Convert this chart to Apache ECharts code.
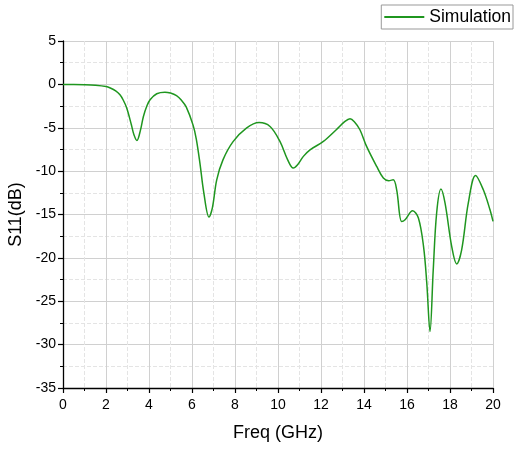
<!DOCTYPE html>
<html>
<head>
<meta charset="utf-8">
<script src="https://cdn.jsdelivr.net/npm/echarts@6/dist/echarts.min.js"></script>
<style>
  html, body { margin: 0; padding: 0; background: #fff; }
  #chart { width: 514px; height: 449px; }
</style>
</head>
<body>
<div id="chart"></div>
<script>
// S11 simulation
const freqGHz = [0, 0.5, 1, 1.5, 2, 2.2, 2.45, 2.65, 2.8, 2.96, 3.18, 3.3, 3.44, 3.6, 3.74, 3.9, 4.05, 4.36, 4.74, 5.0,
  5.28, 5.5, 5.73, 6.05, 6.2, 6.37, 6.55, 6.79, 6.95, 7.15, 7.44, 7.91, 8.53, 9.12, 9.63, 10.09, 10.45, 10.71, 10.9, 11.18,
  11.49, 12.11, 12.71, 13.1, 13.35, 13.55, 13.81, 14.12, 14.59, 14.9, 15.15, 15.36, 15.52, 15.75, 15.91, 16.26, 16.53, 16.77, 16.92, 17.07,
  17.22, 17.38, 17.58, 17.77, 18.08, 18.31, 18.54, 18.85, 19.19, 19.55, 19.86, 20]
const s11dB = [0, 0, -0.03, -0.1, -0.25, -0.42, -0.75, -1.2, -1.8, -2.7, -4.65, -5.8, -6.46, -5.3, -3.7, -2.5, -1.77, -1.08, -0.9, -1.0,
  -1.3, -1.8, -2.6, -4.7, -6.3, -9.1, -12.5, -15.3, -14.2, -11.0, -8.7, -6.6, -5.04, -4.4, -4.85, -6.58, -8.7, -9.65, -9.3, -8.3,
  -7.54, -6.58, -5.23, -4.3, -3.96, -4.3, -5.23, -7.15, -9.46, -10.8, -11.1, -11.0, -12.15, -15.8, -15.6, -14.57, -15.4, -18.7, -22.9, -28.5,
  -21.4, -14.8, -12.07, -13.7, -18.7, -20.7, -19.1, -13.7, -10.5, -12.15, -14.46, -15.8]
const seriesName = 'Simulation'

const chart = echarts.init(document.getElementById('chart'))
const axisFont = { fontFamily: 'Liberation Sans, Arial, sans-serif', color: '#000' }
const lineColor = '#1f961f'

const option = {
  animation: false,
  grid: { left: 63, right: 21, top: 41, bottom: 61, outerBoundsMode: 'none', containLabel: false },
  legend: {
    data: [{ name: seriesName, icon: 'rect' }],
    right: 1,
    top: 5,
    itemWidth: 40,
    itemHeight: 2,
    itemGap: 6,
    padding: [3, 2, 3, 3],
    borderColor: '#999',
    borderWidth: 1,
    textStyle: { ...axisFont, fontSize: 17.5 }
  },
  xAxis: {
    type: 'value',
    min: 0,
    max: 20,
    interval: 2,
    name: 'Freq (GHz)',
    nameLocation: 'middle',
    nameGap: 36,
    nameTextStyle: { ...axisFont, fontSize: 18 },
    axisLine: { show: true, onZero: false, lineStyle: { color: '#000', width: 1.3 } },
    axisTick: { show: true, inside: false, length: 5, lineStyle: { color: '#000', width: 1.2 } },
    minorTick: { show: true, splitNumber: 2, length: 3, lineStyle: { color: '#000' } },
    axisLabel: { ...axisFont, fontSize: 14, margin: 10 },
    splitLine: { show: true, lineStyle: { color: '#d0d0d0', width: 1 } },
    minorSplitLine: { show: true, lineStyle: { color: '#e4e4e4', type: 'dashed', width: 1 } }
  },
  yAxis: {
    type: 'value',
    min: -35,
    max: 5,
    interval: 5,
    name: 'S11(dB)',
    nameLocation: 'middle',
    nameGap: 35,
    nameTextStyle: { ...axisFont, fontSize: 18 },
    axisLine: { show: true, onZero: false, lineStyle: { color: '#000', width: 1.3 } },
    axisTick: { show: true, inside: false, length: 5, lineStyle: { color: '#000', width: 1.2 } },
    minorTick: { show: true, splitNumber: 2, length: 3, lineStyle: { color: '#000' } },
    axisLabel: { ...axisFont, fontSize: 14, margin: 7 },
    splitLine: { show: true, lineStyle: { color: '#d0d0d0', width: 1 } },
    minorSplitLine: { show: true, lineStyle: { color: '#e4e4e4', type: 'dashed', width: 1 } }
  },
  series: [{
    name: seriesName,
    type: 'line',
    data: freqGHz.map((f, i) => [f, s11dB[i]]),
    symbol: 'none',
    smooth: 0.35,
    lineStyle: { color: lineColor, width: 1.5 },
    itemStyle: { color: lineColor }
  }]
}
chart.setOption(option)
</script>
</body>
</html>
